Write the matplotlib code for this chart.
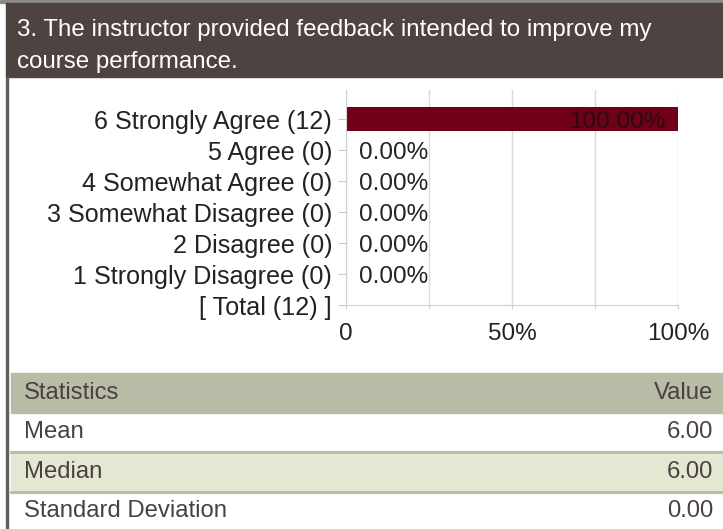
import numpy as np
import matplotlib.pyplot as plt
from matplotlib.patches import Rectangle

plt.rcParams['font.family'] = ['Liberation Sans', 'DejaVu Sans']

# data
title = "3. The instructor provided feedback intended to improve my\ncourse performance."
labels = ["6 Strongly Agree (12)", "5 Agree (0)", "4 Somewhat Agree (0)",
          "3 Somewhat Disagree (0)", "2 Disagree (0)", "1 Strongly Disagree (0)",
          "[ Total (12) ]"]
pct = [100.0, 0.0, 0.0, 0.0, 0.0, 0.0]
xticks = [0, 50, 100]
xticklabels = ["0", "50%", "100%"]
stat_names = ["Mean", "Median", "Standard Deviation"]
stat_values = [6.00, 6.00, 0.00]

W, H = 723, 529
fig = plt.figure(figsize=(W / 100, H / 100), dpi=100)

# page layer in pixel coordinates
bg = fig.add_axes([0, 0, 1, 1], zorder=0)
bg.set_xlim(0, W)
bg.set_ylim(H, 0)
bg.axis("off")

txt_col = "#4a4040"
bg.add_patch(Rectangle((0, 0), W, 3, color="#8a8a8a"))
bg.add_patch(Rectangle((6, 3), W - 6, 74, color="#4d4341"))
for i, line in enumerate(title.split("\n")):
    bg.text(17, 36 + 32 * i, line, color="white", fontsize=17.4, va="baseline", ha="left")
bg.add_patch(Rectangle((6, 77), 2.2, H - 77, color="#655c5c"))

# stats table
header_top, header_h = 373, 40
row_h = [38, 42, 36]
bg.add_patch(Rectangle((11, header_top), W - 11, header_h, color="#b8bba6"))
bg.text(24, header_top + header_h / 2, "Statistics", color=txt_col, fontsize=17.2, va="center")
bg.text(713, header_top + header_h / 2, "Value", color=txt_col, fontsize=17.2, va="center", ha="right")
y = header_top + header_h
for i, (name, val) in enumerate(zip(stat_names, stat_values)):
    h = row_h[i]
    if i % 2 == 1:
        bg.add_patch(Rectangle((11, y), W - 11, h, color="#e4e8d2"))
        bg.plot([11, W], [y + 1, y + 1], color="#b8bba6", lw=2)
        bg.plot([11, W], [y + h - 1, y + h - 1], color="#b8bba6", lw=2)
    bg.text(24, y + h / 2, name, color=txt_col, fontsize=17.2, va="center")
    bg.text(713, y + h / 2, "%.2f" % val, color=txt_col, fontsize=17.2, va="center", ha="right")
    y += h

# bar chart
ax = fig.add_axes([346 / W, 1 - 305 / H, 332 / W, 215 / H], zorder=1)
ax.set_facecolor("none")
ypos = np.arange(len(pct), 0, -1)
ax.barh(ypos, pct, height=0.77, color="#700018", zorder=2)
for yp, v in zip(ypos, pct):
    if v > 0:
        ax.annotate("%.2f%%" % v, (v, yp), xytext=(-9, 0), textcoords="offset points",
                    ha="right", va="center_baseline", fontsize=17.5, color="#2a0a0e", zorder=3)
    else:
        ax.annotate("%.2f%%" % v, (0, yp), xytext=(9, 0), textcoords="offset points",
                    ha="left", va="center_baseline", fontsize=17.5, color="#222222", zorder=3)

ax.set_xlim(0, 100)
ax.set_ylim(0, 6.94)
ax.set_yticks(list(ypos) + [0])
ax.set_yticklabels(labels, fontsize=18.1, color="#222222")
ax.set_xticks(xticks)
ax.set_xticklabels(xticklabels, fontsize=17.5, color="#222222")
ax.set_xticks([25, 75], minor=True)
ax.grid(axis="x", which="both", color="#d9d9d9", lw=1, zorder=0)
ax.tick_params(axis="y", length=6, color="#cccccc", pad=4)
ax.tick_params(axis="x", which="both", length=3, color="#cccccc", pad=10)
for s in ["top", "right"]:
    ax.spines[s].set_visible(False)
for s in ["left", "bottom"]:
    ax.spines[s].set_color("#d0d0d0")

fig.savefig("out.png", dpi=100)
